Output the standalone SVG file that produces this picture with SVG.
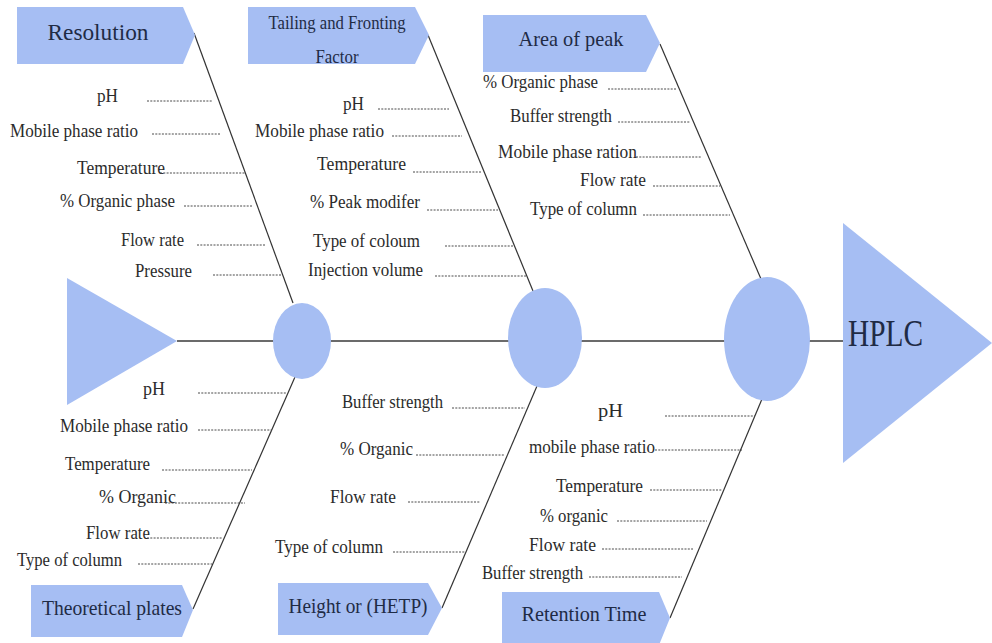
<svg xmlns="http://www.w3.org/2000/svg" width="992" height="643" viewBox="0 0 992 643">
<style>
.box{fill:#a6bef3}
.node{fill:#a6bef3}
.cat{font-family:"Liberation Serif","Times New Roman",serif;fill:#1f2b45;text-anchor:middle}
.lbl{font-family:"Liberation Serif","Times New Roman",serif;font-size:19px;fill:#2b2b2b;text-anchor:end}
.dash{stroke:#4a4a4a;stroke-width:1;stroke-dasharray:2 1.3;fill:none}
.bone{stroke:#333;stroke-width:1.2;fill:none}
.spine{stroke:#6b6b6b;stroke-width:2;fill:none}
</style>
<rect width="992" height="643" fill="#ffffff"/>

<g id="connectors">
  <line class="spine" x1="177" y1="341" x2="843" y2="341"/>
  <line class="bone" x1="194" y1="33" x2="293" y2="303"/>
  <line class="bone" x1="428" y1="35" x2="533" y2="291"/>
  <line class="bone" x1="660" y1="44" x2="761" y2="279"/>
  <line class="bone" x1="295" y1="377" x2="193" y2="609"/>
  <line class="bone" x1="537" y1="386" x2="442" y2="608"/>
  <line class="bone" x1="762" y1="399" x2="670" y2="618"/>
</g>

<g id="tail">
  <polygon class="node" points="67,278 177,341 67,405"/>
</g>
<g id="junction-1"><ellipse class="node" cx="302" cy="341" rx="29" ry="38"/></g>
<g id="junction-2"><ellipse class="node" cx="545" cy="338" rx="37" ry="50"/></g>
<g id="junction-3"><ellipse class="node" cx="767" cy="339" rx="43" ry="62"/></g>

<g id="head">
  <polygon class="node" points="843,223 992,343 843,463"/>
  <text class="cat" x="848" y="346" font-size="37" style="text-anchor:start" textLength="75" lengthAdjust="spacingAndGlyphs">HPLC</text>
</g>

<g id="resolution">
  <polygon class="box" points="17,7 183,7 195,35 183,64 17,64"/>
  <text class="cat" x="98" y="40" font-size="23" textLength="101" lengthAdjust="spacingAndGlyphs">Resolution</text>
  <text class="lbl" x="118" y="102" textLength="21" lengthAdjust="spacingAndGlyphs">pH</text>
  <line class="dash" x1="147" y1="101" x2="213" y2="101"/>
  <text class="lbl" x="138" y="137" textLength="128" lengthAdjust="spacingAndGlyphs">Mobile phase ratio</text>
  <line class="dash" x1="152" y1="134" x2="220" y2="134"/>
  <text class="lbl" x="165" y="174" textLength="88" lengthAdjust="spacingAndGlyphs">Temperature</text>
  <line class="dash" x1="160" y1="173" x2="245" y2="173"/>
  <text class="lbl" x="175" y="207" textLength="115" lengthAdjust="spacingAndGlyphs">% Organic phase</text>
  <line class="dash" x1="184" y1="206" x2="252" y2="206"/>
  <text class="lbl" x="184" y="246" textLength="63" lengthAdjust="spacingAndGlyphs">Flow rate</text>
  <line class="dash" x1="197" y1="245" x2="266" y2="245"/>
  <text class="lbl" x="192" y="277" textLength="57" lengthAdjust="spacingAndGlyphs">Pressure</text>
  <line class="dash" x1="213" y1="275" x2="282" y2="275"/>
</g>

<g id="tailing">
  <polygon class="box" points="248,7 415,7 429,35 415,64 248,64"/>
  <text class="cat" x="337" y="29" font-size="18" textLength="137" lengthAdjust="spacingAndGlyphs">Tailing and Fronting</text>
  <text class="cat" x="337" y="63" font-size="18" textLength="43" lengthAdjust="spacingAndGlyphs">Factor</text>
  <text class="lbl" x="364" y="110" textLength="21" lengthAdjust="spacingAndGlyphs">pH</text>
  <line class="dash" x1="378" y1="109" x2="449" y2="109"/>
  <text class="lbl" x="384" y="137" textLength="129" lengthAdjust="spacingAndGlyphs">Mobile phase ratio</text>
  <line class="dash" x1="392" y1="136" x2="462" y2="136"/>
  <text class="lbl" x="406" y="170" textLength="89" lengthAdjust="spacingAndGlyphs">Temperature</text>
  <line class="dash" x1="413" y1="172" x2="482" y2="172"/>
  <text class="lbl" x="420" y="208" textLength="110" lengthAdjust="spacingAndGlyphs">% Peak modifer</text>
  <line class="dash" x1="427" y1="210" x2="498" y2="210"/>
  <text class="lbl" x="420" y="247" textLength="107" lengthAdjust="spacingAndGlyphs">Type of coloum</text>
  <line class="dash" x1="445" y1="246" x2="513" y2="246"/>
  <text class="lbl" x="423" y="276" textLength="115" lengthAdjust="spacingAndGlyphs">Injection volume</text>
  <line class="dash" x1="435" y1="276" x2="527" y2="276"/>
</g>

<g id="area-of-peak">
  <polygon class="box" points="483,15 646,15 660,43 646,72 483,72"/>
  <text class="cat" x="571" y="46" font-size="22" textLength="105" lengthAdjust="spacingAndGlyphs">Area of peak</text>
  <text class="lbl" x="598" y="88" textLength="115" lengthAdjust="spacingAndGlyphs">% Organic phase</text>
  <line class="dash" x1="608" y1="89" x2="677" y2="89"/>
  <text class="lbl" x="612" y="122" textLength="102" lengthAdjust="spacingAndGlyphs">Buffer strength</text>
  <line class="dash" x1="618" y1="122" x2="690" y2="122"/>
  <text class="lbl" x="637" y="158" textLength="139" lengthAdjust="spacingAndGlyphs">Mobile phase ration</text>
  <line class="dash" x1="636" y1="157" x2="702" y2="157"/>
  <text class="lbl" x="646" y="186" textLength="66" lengthAdjust="spacingAndGlyphs">Flow rate</text>
  <line class="dash" x1="653" y1="186" x2="720" y2="186"/>
  <text class="lbl" x="637" y="215" textLength="107" lengthAdjust="spacingAndGlyphs">Type of column</text>
  <line class="dash" x1="643" y1="215" x2="730" y2="215"/>
</g>

<g id="theoretical-plates">
  <polygon class="box" points="31,585 182,585 193,610 182,637 31,637"/>
  <text class="cat" x="112" y="615" font-size="21" textLength="140" lengthAdjust="spacingAndGlyphs">Theoretical plates</text>
  <text class="lbl" x="165" y="395" textLength="22" lengthAdjust="spacingAndGlyphs">pH</text>
  <line class="dash" x1="198" y1="393" x2="287" y2="393"/>
  <text class="lbl" x="188" y="432" textLength="128" lengthAdjust="spacingAndGlyphs">Mobile phase ratio</text>
  <line class="dash" x1="198" y1="430" x2="272" y2="430"/>
  <text class="lbl" x="150" y="470" textLength="85" lengthAdjust="spacingAndGlyphs">Temperature</text>
  <line class="dash" x1="162" y1="470" x2="252" y2="470"/>
  <text class="lbl" x="176" y="503" textLength="77" lengthAdjust="spacingAndGlyphs">% Organic</text>
  <line class="dash" x1="165" y1="503" x2="245" y2="503"/>
  <text class="lbl" x="150" y="539" textLength="64" lengthAdjust="spacingAndGlyphs">Flow rate</text>
  <line class="dash" x1="147" y1="538" x2="222" y2="538"/>
  <text class="lbl" x="122" y="566" textLength="105" lengthAdjust="spacingAndGlyphs">Type of column</text>
  <line class="dash" x1="138" y1="564" x2="212" y2="564"/>
</g>

<g id="hetp">
  <polygon class="box" points="278,583 428,583 442,608 428,635 278,635"/>
  <text class="cat" x="358" y="613" font-size="21" textLength="139" lengthAdjust="spacingAndGlyphs">Height or (HETP)</text>
  <text class="lbl" x="443" y="408" textLength="101" lengthAdjust="spacingAndGlyphs">Buffer strength</text>
  <line class="dash" x1="452" y1="408" x2="525" y2="408"/>
  <text class="lbl" x="413" y="455" textLength="73" lengthAdjust="spacingAndGlyphs">% Organic</text>
  <line class="dash" x1="416" y1="455" x2="505" y2="455"/>
  <text class="lbl" x="396" y="503" textLength="66" lengthAdjust="spacingAndGlyphs">Flow rate</text>
  <line class="dash" x1="408" y1="502" x2="480" y2="502"/>
  <text class="lbl" x="383" y="553" textLength="108" lengthAdjust="spacingAndGlyphs">Type of column</text>
  <line class="dash" x1="393" y1="552" x2="465" y2="552"/>
</g>

<g id="retention-time">
  <polygon class="box" points="502,592 659,592 670,618 659,645 502,645"/>
  <text class="cat" x="584" y="621" font-size="21" textLength="125" lengthAdjust="spacingAndGlyphs">Retention Time</text>
  <text class="lbl" x="623" y="417" textLength="25" lengthAdjust="spacingAndGlyphs">pH</text>
  <line class="dash" x1="665" y1="416" x2="755" y2="416"/>
  <text class="lbl" x="655" y="453" textLength="126" lengthAdjust="spacingAndGlyphs">mobile phase ratio</text>
  <line class="dash" x1="655" y1="450" x2="742" y2="450"/>
  <text class="lbl" x="643" y="492" textLength="87" lengthAdjust="spacingAndGlyphs">Temperature</text>
  <line class="dash" x1="650" y1="490" x2="722" y2="490"/>
  <text class="lbl" x="608" y="522" textLength="68" lengthAdjust="spacingAndGlyphs">% organic</text>
  <line class="dash" x1="617" y1="521" x2="707" y2="521"/>
  <text class="lbl" x="596" y="551" textLength="67" lengthAdjust="spacingAndGlyphs">Flow rate</text>
  <line class="dash" x1="602" y1="549" x2="693" y2="549"/>
  <text class="lbl" x="583" y="579" textLength="101" lengthAdjust="spacingAndGlyphs">Buffer strength</text>
  <line class="dash" x1="589" y1="577" x2="682" y2="577"/>
</g>
</svg>
